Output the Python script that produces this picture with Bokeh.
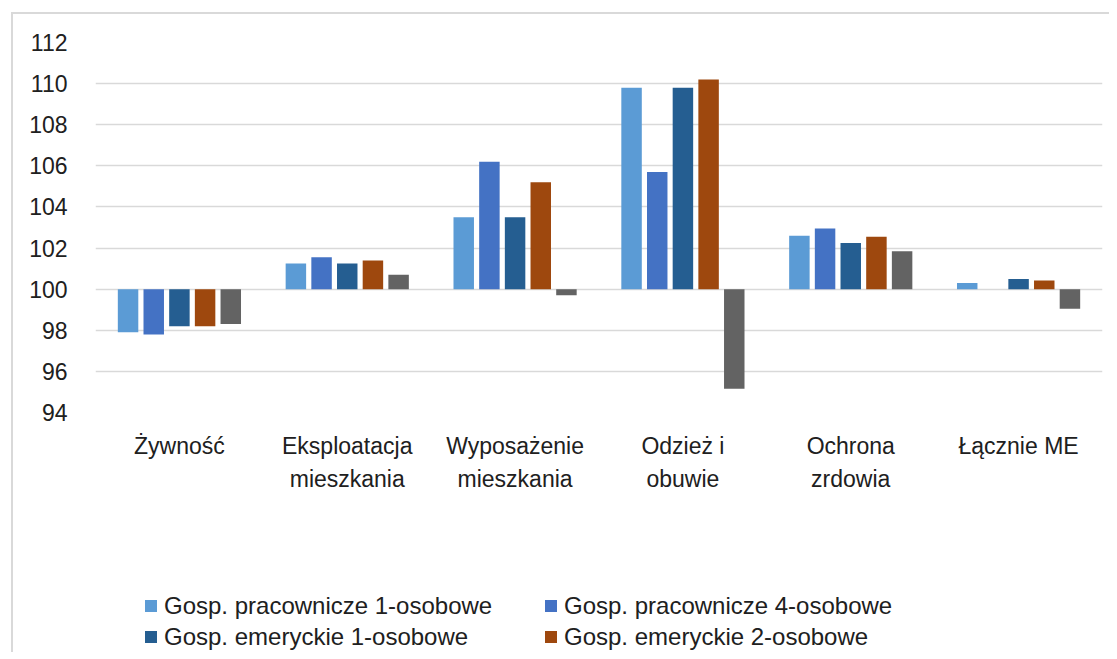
from bokeh.plotting import figure
from bokeh.models import ColumnDataSource, Legend, LegendItem
from bokeh.layouts import column
from bokeh.transform import dodge
from bokeh.embed import file_html
from bokeh.resources import INLINE

categories = ["Żywność", "Eksploatacja\nmieszkania", "Wyposażenie\nmieszkania",
              "Odzież i\nobuwie", "Ochrona\nzrdowia", "Łącznie ME"]
series_names = ["Gosp. pracownicze 1-osobowe", "Gosp. pracownicze 4-osobowe",
                "Gosp. emeryckie 1-osobowe", "Gosp. emeryckie 2-osobowe",
                "Gosp. ogółem"]
s1 = [97.9, 101.25, 103.5, 109.8, 102.6, 100.3]
s2 = [97.8, 101.55, 106.2, 105.7, 102.95, 100.0]
s3 = [98.2, 101.25, 103.5, 109.8, 102.25, 100.5]
s4 = [98.2, 101.4, 105.2, 110.2, 102.55, 100.42]
s5 = [98.3, 100.7, 99.7, 95.15, 101.85, 99.05]
y_ticks = [94, 96, 98, 100, 102, 104, 106, 108, 110, 112]

colors = ["#5B9BD5", "#4472C4", "#255E91", "#9E480E", "#636363"]
series = [s1, s2, s3, s4, s5]
FONT = "Liberation Sans"
TXT = "#202020"
BORDER = "2px solid #d9d9d9"

data = {"cat": categories, "base": [100] * len(categories)}
for i, s in enumerate(series):
    data[f"s{i}"] = s
src = ColumnDataSource(data)

p = figure(x_range=categories, y_range=(94, 112),
           frame_width=1005, frame_height=368,
           output_backend="svg", toolbar_location=None,
           min_border_left=82, min_border_right=9, min_border_top=28,
           min_border_bottom=180)
p.margin = (12, 0, 0, 11)
p.styles = {"border-left": BORDER, "border-top": BORDER}
p.outline_line_color = None

step = 0.153
bw = 0.122
renderers = []
for i in range(5):
    r = p.vbar(x=dodge("cat", (i - 2) * step, range=p.x_range), top=f"s{i}",
               bottom="base", width=bw, source=src, fill_color=colors[i],
               line_color=None)
    renderers.append(r)

p.xgrid.grid_line_color = None
p.ygrid.grid_line_color = "#d9d9d9"
p.ygrid.grid_line_width = 1.6
p.yaxis.ticker = y_ticks
p.yaxis.axis_line_color = None
p.yaxis.major_tick_line_color = None
p.yaxis.minor_tick_line_color = None
p.yaxis.major_label_standoff = 22
p.yaxis.major_label_text_font = FONT
p.yaxis.major_label_text_font_size = "23px"
p.yaxis.major_label_text_color = TXT

p.xaxis.axis_line_color = None
p.xaxis.major_tick_line_color = None
p.xaxis.major_tick_out = 0
p.xaxis.major_label_standoff = 20
p.xaxis.major_label_text_font = FONT
p.xaxis.major_label_text_font_size = "23px"
p.xaxis.major_label_text_color = TXT
p.xaxis.major_label_text_line_height = 1.3

# legend panel (separate figure so it is not clipped)
lg = figure(x_range=(0, 1), y_range=(0, 1), frame_width=1005, frame_height=62,
            output_backend="svg", toolbar_location=None,
            min_border_left=82, min_border_right=9, min_border_top=0,
            min_border_bottom=0)
lg.margin = (0, 0, 0, 11)
lg.styles = {"border-left": BORDER}
lg.outline_line_color = None
lg.axis.visible = False
lg.grid.grid_line_color = None
# off-screen swatch renderers used only for the legend glyphs
dummy = []
for i in range(4):
    dummy.append(lg.vbar(x=[-5], top=[-5], bottom=[-6], width=0.1,
                         fill_color=colors[i], line_color=None))

order = [0, 2, 1, 3]  # column-major fill -> rows: (1,4) / (e1,e2)
items = [LegendItem(label=series_names[i], renderers=[dummy[i]]) for i in order]
legend = Legend(items=items, ncols=2, location=(48, 0), padding=0, margin=0,
                border_line_color=None, background_fill_alpha=0,
                glyph_width=15, glyph_height=15, label_height=31,
                label_width=379, spacing=0, label_standoff=6,
                label_text_font=FONT, label_text_font_size="24px",
                label_text_color=TXT)
lg.add_layout(legend, "center")

layout = column(p, lg, spacing=0)
open("out.html", "w").write(file_html(layout, INLINE))
